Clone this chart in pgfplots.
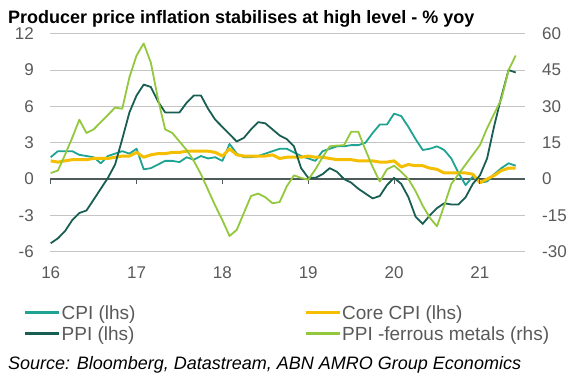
\documentclass[border=0pt]{standalone}
\usepackage{pgfplots}
\pgfplotsset{compat=1.18}
\usepackage{pgfplotstable}
\usepackage{fontspec}
\setmainfont{Liberation Sans}
\definecolor{cpi}{HTML}{1FA392}
\definecolor{ppi}{HTML}{195E52}
\definecolor{core}{HTML}{F5BE00}
\definecolor{fer}{HTML}{93C83E}
\definecolor{gridc}{HTML}{C4C4C4}
\definecolor{zeroc}{HTML}{4F5A5A}
\definecolor{tickc}{HTML}{595959}
\definecolor{legc}{HTML}{595959}
\pgfplotstableread{
m cpi core ppi fer
0 1.8 1.5 -5.3 2.5
1 2.3 1.4 -4.9 3.5
2 2.3 1.5 -4.3 10
3 2.3 1.6 -3.4 17
4 2.0 1.6 -2.8 24.5
5 1.9 1.6 -2.6 19
6 1.8 1.7 -1.7 20.5
7 1.3 1.7 -0.8 23.5
8 1.9 1.7 0.1 26.5
9 2.1 1.8 1.2 29.5
10 2.3 1.9 3.3 29
11 2.1 1.9 5.5 42
12 2.5 2.2 6.9 51
13 0.8 1.8 7.8 56
14 0.9 2.0 7.6 48
15 1.2 2.1 6.4 33
16 1.5 2.1 5.5 20.5
17 1.5 2.2 5.5 19
18 1.4 2.2 5.5 15.5
19 1.8 2.3 6.3 12
20 1.6 2.3 6.9 7.5
21 1.9 2.3 6.9 2
22 1.7 2.3 5.8 -4.5
23 1.8 2.2 4.9 -11
24 1.5 1.9 4.3 -17
25 2.9 2.5 3.7 -23.5
26 2.1 2.0 3.1 -21
27 1.8 1.9 3.4 -14
28 1.8 1.9 4.1 -7
29 1.9 1.9 4.7 -6
30 2.1 1.9 4.6 -7.5
31 2.3 2.0 4.1 -10
32 2.5 1.7 3.6 -9.5
33 2.5 1.8 3.3 -3
34 2.2 1.8 2.7 1.5
35 1.9 1.8 0.9 0.5
36 1.7 1.9 0.1 -0.3
37 1.5 1.8 0.1 4
38 2.3 1.8 0.4 9
39 2.5 1.7 0.9 13.5
40 2.7 1.6 0.6 13.8
41 2.7 1.6 0.0 14
42 2.8 1.6 -0.3 19.5
43 2.8 1.5 -0.8 19.5
44 3.0 1.5 -1.2 12
45 3.8 1.5 -1.6 5
46 4.5 1.4 -1.4 -1
47 4.5 1.4 -0.5 4
48 5.4 1.5 0.1 5.5
49 5.2 1.0 -0.4 3
50 4.3 1.2 -1.5 0
51 3.3 1.1 -3.1 -5
52 2.4 1.1 -3.7 -11
53 2.5 0.9 -3.0 -16
54 2.7 0.8 -2.4 -19.5
55 2.4 0.5 -2.0 -11
56 1.7 0.5 -2.1 -2
57 0.5 0.5 -2.1 2
58 -0.5 0.5 -1.5 6
59 0.2 0.4 -0.4 10
60 -0.3 -0.3 0.3 14
61 -0.2 0.0 1.7 21
62 0.4 0.3 4.4 27
63 0.9 0.7 6.8 33
64 1.3 0.9 9.0 45
65 1.1 0.9 8.8 51
}\data
\begin{document}
\begin{tikzpicture}
\path[use as bounding box] (0pt,0pt) rectangle (580pt,-384pt);
\node[anchor=base west, inner sep=0pt, font=\fontsize{18}{20}\selectfont\bfseries] at (8pt,-23pt) {Producer price inflation stabilises at high level - \% yoy};
\begin{axis}[
  at={(50pt,-251.7pt)}, anchor=south west, scale only axis,
  width=475pt, height=218pt,
  xmin=-0.1, xmax=66.3, ymin=-6, ymax=12,
  ytick={-6,-3,...,12},
  xtick={0,12,...,60}, xticklabels={16,17,18,19,20,21},
  ymajorgrids, grid style={gridc, line width=0.9pt},
  axis line style={draw=none}, major tick length=0pt,
  tick label style={font=\fontsize{17}{18}\selectfont, text=tickc},
  /pgf/number format/assume math mode=true,
  yticklabel style={inner sep=0pt, xshift=-16pt},
  xticklabel style={inner sep=0pt, yshift=-15pt},
  extra y ticks={0}, extra y tick labels={},
  extra y tick style={grid style={zeroc, line width=1.6pt}},
  legend columns=2,
  legend cell align=left,
  legend style={at={(axis description cs:-0.055,-0.243)}, anchor=north west,
    draw=none, fill=none, inner sep=0pt, row sep=4pt,
    font=\fontsize{19}{20}\selectfont, text=legc, nodes={inner sep=1pt},
    /tikz/every even column/.append style={column sep=168pt}},
  legend image code/.code={\draw[#1, line width=2.6pt] (0pt,1pt) -- (34pt,1pt);},
]
\addplot[cpi, line width=1.8pt, line join=round] table[x=m,y=cpi]{\data};
\addlegendentry{CPI (lhs)}
\addplot[core, line width=3pt, line join=round] table[x=m,y=core]{\data};
\addlegendentry{Core CPI (lhs)}
\addplot[ppi, line width=1.8pt, line join=round] table[x=m,y=ppi]{\data};
\addlegendentry{PPI (lhs)}
\addlegendimage{fer, line width=1.8pt}
\addlegendentry{PPI -ferrous metals (rhs)}
\draw[zeroc, line width=1pt] (axis cs:0,0) -- ++(0pt,-5pt);
\draw[zeroc, line width=1pt] (axis cs:12,0) -- ++(0pt,-5pt);
\draw[zeroc, line width=1pt] (axis cs:24,0) -- ++(0pt,-5pt);
\draw[zeroc, line width=1pt] (axis cs:36,0) -- ++(0pt,-5pt);
\draw[zeroc, line width=1pt] (axis cs:48,0) -- ++(0pt,-5pt);
\draw[zeroc, line width=1pt] (axis cs:60,0) -- ++(0pt,-5pt);
\end{axis}
\begin{axis}[
  at={(50pt,-251.7pt)}, anchor=south west, scale only axis,
  width=475pt, height=218pt,
  xmin=-0.1, xmax=66.3, ymin=-30, ymax=60,
  ytick={-30,-15,...,60},
  hide x axis, axis line style={draw=none}, major tick length=0pt,
  yticklabel pos=right,
  tick label style={font=\fontsize{17}{18}\selectfont, text=tickc},
  /pgf/number format/assume math mode=true,
  yticklabel style={inner sep=0pt, xshift=17pt},
]
\addplot[fer, line width=1.8pt, line join=round] table[x=m,y=fer]{\data};
\end{axis}
\node[anchor=base west, inner sep=0pt, font=\fontsize{18}{20}\selectfont\itshape] at (8pt,-369pt) {Source: Bloomberg, Datastream, ABN AMRO Group Economics};
\end{tikzpicture}
\end{document}
